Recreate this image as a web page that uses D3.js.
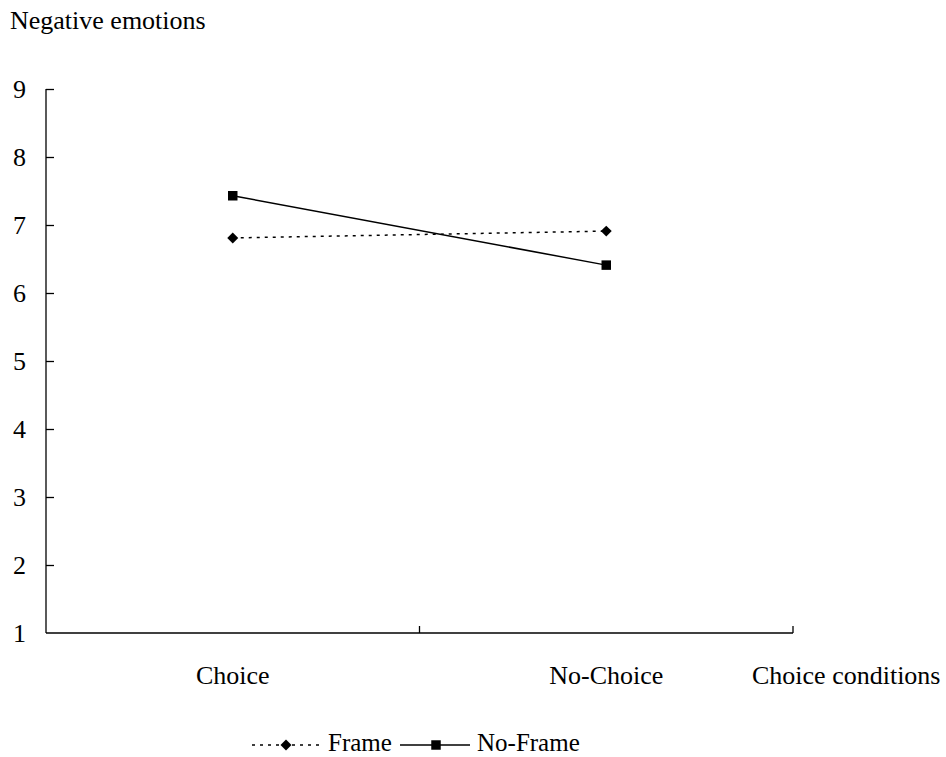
<!DOCTYPE html>
<html><head><meta charset="utf-8">
<script src="https://cdn.jsdelivr.net/npm/d3@7"></script>
<style>
body{margin:0;background:#fff;}
text{font-family:"Liberation Serif","Times New Roman",serif;fill:#000;font-size:26px;}
</style></head>
<body><svg id="c" width="946" height="757"></svg>
<script>
const categories = ["Choice", "No-Choice"];
const frameValues = [6.81, 6.91];
const noFrameValues = [7.43, 6.41];
const yTicks = [1,2,3,4,5,6,7,8,9];
const seriesNames = ["Frame", "No-Frame"];

const svg = d3.select("#c");
const m = {left:46, right:793, top:89, bottom:633};
const x = d3.scaleBand().domain(categories).range([m.left, m.right]);
const y = d3.scaleLinear().domain([1,9]).range([m.bottom, m.top]);
const FS = "26px";

// y axis
const ya = svg.append("g").attr("transform",`translate(${m.left},0)`)
  .call(d3.axisLeft(y).tickValues(yTicks).tickSize(-8).tickPadding(20).tickFormat(d3.format("d")));
ya.select(".domain").attr("d",`M0,${m.top}V${m.bottom}`).attr("stroke","#000").attr("stroke-width",1.3);
ya.selectAll(".tick line").attr("stroke","#000").attr("stroke-width",1.3);
ya.selectAll(".tick text").attr("font-family",null).attr("font-size",null).style("font-size",FS).attr("dy","0.34em");
ya.selectAll(".tick").filter(d=>d===1).select("line").remove();

// x axis
const xa = svg.append("g").attr("transform",`translate(0,${m.bottom})`)
  .call(d3.axisBottom(x).tickSize(0).tickPadding(0));
xa.select(".domain").attr("d",`M${m.left},0H${m.right}`).attr("stroke","#000").attr("stroke-width",1.3);
xa.selectAll(".tick text").attr("font-family",null).attr("font-size",null).style("font-size",FS)
  .attr("y",51).attr("dy",null);
const bounds = categories.map(c => x(c) + x.bandwidth());
xa.selectAll(".bt").data(bounds).enter().append("line")
  .attr("x1",d=>d).attr("x2",d=>d).attr("y1",0).attr("y2",-7)
  .attr("stroke","#000").attr("stroke-width",1.3);

svg.append("text").attr("x",10).attr("y",29).text("Negative emotions");
svg.append("text").attr("x",752).attr("y",684).text("Choice conditions");

const cx = c => x(c) + x.bandwidth()/2;
const line = d3.line().x((d,i)=>cx(categories[i])).y(d=>y(d));
const square = d3.symbol().type(d3.symbolSquare).size(90);
const diamond = d3.symbol().type(d3.symbolSquare).size(60);

svg.append("path").datum(frameValues).attr("d",line).attr("fill","none")
  .attr("stroke","#000").attr("stroke-width",1.5).attr("stroke-dasharray","3,5");
svg.append("path").datum(noFrameValues).attr("d",line).attr("fill","none")
  .attr("stroke","#000").attr("stroke-width",1.5);
svg.selectAll(".fm").data(frameValues).enter().append("path")
  .attr("transform",(d,i)=>`translate(${cx(categories[i])},${y(d)}) rotate(45)`).attr("d",diamond).attr("fill","#000");
svg.selectAll(".nm").data(noFrameValues).enter().append("path")
  .attr("transform",(d,i)=>`translate(${cx(categories[i])},${y(d)})`).attr("d",square).attr("fill","#000");

// legend
const lg = svg.append("g");
const ly = 745;
lg.append("line").attr("x1",252).attr("x2",320).attr("y1",ly).attr("y2",ly)
  .attr("stroke","#000").attr("stroke-width",1.3).attr("stroke-dasharray","3,5");
lg.append("path").attr("transform",`translate(286,${ly}) rotate(45)`).attr("d",diamond).attr("fill","#000");
lg.append("text").attr("x",328).attr("y",751).style("font-size","25px").text(seriesNames[0]);
lg.append("line").attr("x1",400).attr("x2",470).attr("y1",ly).attr("y2",ly)
  .attr("stroke","#000").attr("stroke-width",1.5);
lg.append("path").attr("transform",`translate(436,${ly})`).attr("d",square).attr("fill","#000");
lg.append("text").attr("x",477).attr("y",751).style("font-size","25px").text(seriesNames[1]);
</script></body></html>
